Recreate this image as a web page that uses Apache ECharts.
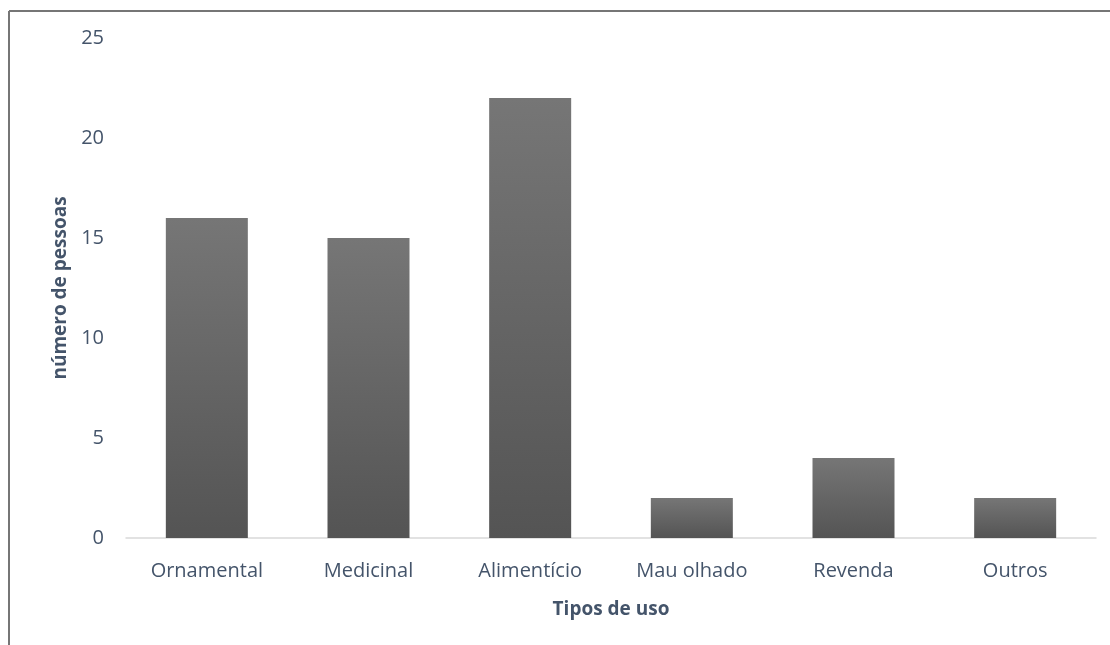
<!DOCTYPE html>
<html><head><meta charset="utf-8">
<script src="https://cdn.jsdelivr.net/npm/echarts@6/dist/echarts.min.js"></script>
<style>html,body{margin:0;padding:0;background:#fff}#c{width:1110px;height:645px}</style>
</head><body><div id="c"></div>
<script>
const categories = ['Ornamental','Medicinal','Alimentício','Mau olhado','Revenda','Outros'];
const values = [16, 15, 22, 2, 4, 2];
const yTicks = [0, 5, 10, 15, 20, 25];
const xTitle = 'Tipos de uso';
const yTitle = 'número de pessoas';

const chart = echarts.init(document.getElementById('c'), null, {renderer:'canvas'});
const txt = '#44546a';
chart.setOption({
  backgroundColor: '#fff',
  animation: false,
  graphic: [
    {type:'line', shape:{x1:9, y1:11, x2:1110, y2:11}, style:{stroke:'#767676', lineWidth:2}},
    {type:'line', shape:{x1:9, y1:11, x2:9, y2:645}, style:{stroke:'#767676', lineWidth:2}}
  ],
  grid: {left:126, right:14, top:38, bottom:107, containLabel:false},
  xAxis: {
    type:'category', data: categories,
    name: xTitle, nameLocation:'middle', nameGap: 62,
    nameTextStyle:{color:txt, fontFamily:'Open Sans', fontSize:19, fontWeight:'bold'},
    axisLine:{lineStyle:{color:'#d9d9d9', width:1.5}},
    axisTick:{show:false},
    axisLabel:{color:txt, fontFamily:'Open Sans', fontSize:20, margin:23}
  },
  yAxis: {
    type:'value', min: yTicks[0], max: yTicks[yTicks.length-1], interval: 5,
    name: yTitle, nameLocation:'middle', nameGap: 56, nameRotate: 90,
    nameTextStyle:{color:txt, fontFamily:'Open Sans', fontSize:19, fontWeight:'bold'},
    axisLine:{show:false}, axisTick:{show:false}, splitLine:{show:false},
    axisLabel:{color:txt, fontFamily:'Open Sans', fontSize:20, margin:22}
  },
  series: [{
    type:'bar', data: values, barWidth: 82,
    itemStyle:{color:{type:'linear', x:0, y:0, x2:0, y2:1, colorStops:[{offset:0,color:'#767676'},{offset:1,color:'#545454'}]}}
  }]
});
</script></body></html>
